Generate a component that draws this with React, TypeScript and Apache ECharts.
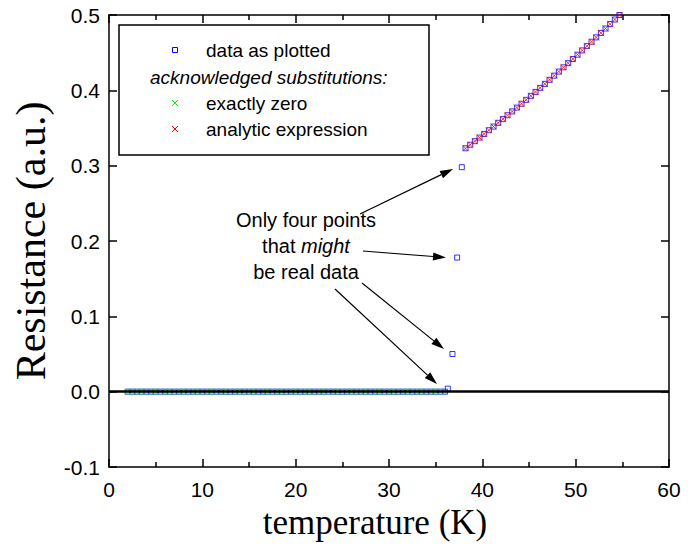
import React, { useEffect, useRef } from "react";
import * as echarts from "echarts";

// ---- data ----
const zeroTemps = [
  2, 2.5, 3, 3.5, 4, 4.5, 5, 5.5, 6, 6.5, 7, 7.5, 8, 8.5, 9, 9.5, 10, 10.5, 11, 11.5,
  12, 12.5, 13, 13.5, 14, 14.5, 15, 15.5, 16, 16.5, 17, 17.5, 18, 18.5, 19, 19.5, 20,
  20.5, 21, 21.5, 22, 22.5, 23, 23.5, 24, 24.5, 25, 25.5, 26, 26.5, 27, 27.5, 28, 28.5,
  29, 29.5, 30, 30.5, 31, 31.5, 32, 32.5, 33, 33.5, 34, 34.5, 35, 35.5, 36,
];
const zeroValue = 0;

const realTemps = [36.3, 36.8, 37.3, 37.8];
const realValues = [0.004, 0.05, 0.178, 0.298];

const curveTemps = [
  38.2, 38.7, 39.2, 39.7, 40.2, 40.7, 41.2, 41.7, 42.2, 42.7, 43.2, 43.7, 44.2, 44.7,
  45.2, 45.7, 46.2, 46.7, 47.2, 47.7, 48.2, 48.7, 49.2, 49.7, 50.2, 50.7, 51.2, 51.7,
  52.2, 52.7, 53.2, 53.7, 54.2, 54.7,
];
const curveValues = [
  0.3231, 0.3278, 0.3325, 0.3373, 0.3421, 0.347, 0.3519, 0.3569, 0.3618, 0.3669,
  0.372, 0.3771, 0.3822, 0.3874, 0.3927, 0.3979, 0.4033, 0.4086, 0.414, 0.4195,
  0.4249, 0.4305, 0.436, 0.4416, 0.4473, 0.453, 0.4587, 0.4645, 0.4703, 0.4762,
  0.4821, 0.488, 0.494, 0.5,
];

const xTicks = { min: 0, max: 60, interval: 10 };
const yTicks = { min: -0.1, max: 0.5, interval: 0.1 };

const legendItems = ["data as plotted", "exactly zero", "analytic expression"];
const legendSubtitle = "acknowledged substitutions:";
const xTitle = "temperature (K)";
const yTitle = "Resistance (a.u.)";

const SANS = "'Liberation Sans', Arial, sans-serif";
const SERIF = "'Liberation Serif', 'Times New Roman', serif";
const BLUE = "#0000ff";
const GREEN = "#00ff00";
const RED = "#ff0000";
const CROSS = "path://M0,0L10,10M10,0L0,10";

function arrow(x1: number, y1: number, x2: number, y2: number) {
  const dx = x2 - x1;
  const dy = y2 - y1;
  const len = Math.sqrt(dx * dx + dy * dy);
  const ux = dx / len;
  const uy = dy / len;
  const hl = 13;
  const hw = 4;
  const bx = x2 - ux * hl;
  const by = y2 - uy * hl;
  return [
    {
      type: "line",
      shape: { x1, y1, x2: bx, y2: by },
      style: { stroke: "#000", lineWidth: 1.2 },
      silent: true,
    },
    {
      type: "polygon",
      shape: {
        points: [
          [x2, y2],
          [bx - uy * hw, by + ux * hw],
          [bx + uy * hw, by - ux * hw],
        ],
      },
      style: { fill: "#000" },
      silent: true,
    },
  ];
}

function cross(cx: number, cy: number, color: string) {
  const h = 3;
  return [
    {
      type: "line",
      shape: { x1: cx - h, y1: cy - h, x2: cx + h, y2: cy + h },
      style: { stroke: color, lineWidth: 1 },
    },
    {
      type: "line",
      shape: { x1: cx - h, y1: cy + h, x2: cx + h, y2: cy - h },
      style: { stroke: color, lineWidth: 1 },
    },
  ];
}

export default function App() {
  const ref = useRef<HTMLDivElement>(null);

  useEffect(() => {
    if (!ref.current) return;
    const chart = echarts.init(ref.current, null, { renderer: "svg" });

    const zeroData = zeroTemps.map((t) => [t, zeroValue]);
    const realData = realTemps.map((t, i) => [t, realValues[i]]);
    const curveData = curveTemps.map((t, i) => [t, curveValues[i]]);
    const allData = [...zeroData, ...realData, ...curveData];

    const axisLine = { show: true, onZero: false, lineStyle: { color: "#000", width: 1.5 } };
    const xCommon = {
      type: "value",
      min: xTicks.min,
      max: xTicks.max,
      interval: xTicks.interval,
      axisLine,
      axisTick: { show: true, inside: true, length: 8, lineStyle: { color: "#000", width: 1.5 } },
      minorTick: { show: true, splitNumber: 2, length: 5, lineStyle: { color: "#000", width: 1.5 } },
      splitLine: { show: false },
      minorSplitLine: { show: false },
    };
    const yCommon = {
      type: "value",
      min: yTicks.min,
      max: yTicks.max,
      interval: yTicks.interval,
      axisLine,
      axisTick: { show: true, inside: true, length: 8, lineStyle: { color: "#000", width: 1.5 } },
      splitLine: { show: false },
    };

    const legendFont = `19px ${SANS}`;
    const noteFont = `20px ${SANS}`;

    const graphics: any[] = [
      {
        type: "rect",
        shape: { x: 119, y: 25, width: 310, height: 130 },
        style: { fill: "#fff", stroke: "#000", lineWidth: 1.5 },
        z: 10,
      },
      {
        type: "rect",
        shape: { x: 172.5, y: 47.5, width: 5, height: 5 },
        style: { fill: "none", stroke: BLUE, lineWidth: 1 },
        z: 11,
      },
      ...cross(175, 103, GREEN).map((g) => ({ ...g, z: 11 })),
      ...cross(175, 129, RED).map((g) => ({ ...g, z: 11 })),
      {
        type: "text",
        x: 206,
        y: 50,
        z: 11,
        style: { text: legendItems[0], font: legendFont, fill: "#000", verticalAlign: "middle" },
      },
      {
        type: "text",
        x: 150,
        y: 77,
        z: 11,
        style: {
          text: legendSubtitle,
          font: `italic ${legendFont}`,
          fill: "#000",
          verticalAlign: "middle",
        },
      },
      {
        type: "text",
        x: 206,
        y: 103,
        z: 11,
        style: { text: legendItems[1], font: legendFont, fill: "#000", verticalAlign: "middle" },
      },
      {
        type: "text",
        x: 206,
        y: 129,
        z: 11,
        style: { text: legendItems[2], font: legendFont, fill: "#000", verticalAlign: "middle" },
      },
      {
        type: "text",
        x: 306,
        y: 220,
        style: {
          text: "Only four points",
          font: noteFont,
          fill: "#000",
          align: "center",
          verticalAlign: "middle",
        },
      },
      {
        type: "text",
        x: 306,
        y: 246,
        style: {
          text: "{n|that }{i|might}",
          align: "center",
          verticalAlign: "middle",
          rich: {
            n: { font: noteFont, fill: "#000" },
            i: { font: `italic ${noteFont}`, fill: "#000" },
          },
        },
      },
      {
        type: "text",
        x: 306,
        y: 272,
        style: {
          text: "be real data",
          font: noteFont,
          fill: "#000",
          align: "center",
          verticalAlign: "middle",
        },
      },
      ...arrow(360, 214, 453, 169),
      ...arrow(363, 251, 446, 257.5),
      ...arrow(362, 283, 444, 349),
      ...arrow(335, 289, 437, 384),
      {
        type: "text",
        x: 375,
        y: 522,
        style: {
          text: xTitle,
          font: `35px ${SERIF}`,
          fill: "#000",
          align: "center",
          verticalAlign: "middle",
        },
      },
      {
        type: "text",
        x: 31,
        y: 241,
        rotation: Math.PI / 2,
        style: {
          text: yTitle,
          font: `42px ${SERIF}`,
          fill: "#000",
          align: "center",
          verticalAlign: "middle",
        },
      },
    ];

    chart.setOption({
      animation: false,
      backgroundColor: "#fff",
      grid: { left: 109, right: 19, top: 15, bottom: 81, containLabel: false },
      xAxis: [
        {
          ...xCommon,
          position: "bottom",
          axisLabel: { color: "#000", fontSize: 21, fontFamily: SANS, margin: 12 },
        },
        { ...xCommon, position: "top", axisLabel: { show: false } },
      ],
      yAxis: [
        {
          ...yCommon,
          position: "left",
          axisLabel: {
            color: "#000",
            fontSize: 21,
            fontFamily: SANS,
            margin: 9,
            formatter: (v: number) => v.toFixed(1),
          },
        },
        { ...yCommon, position: "right", axisLabel: { show: false } },
      ],
      series: [
        {
          type: "line",
          data: [],
          silent: true,
          markLine: {
            silent: true,
            symbol: ["none", "none"],
            label: { show: false },
            lineStyle: { color: "#000", width: 2.5, type: "solid" },
            data: [{ yAxis: 0 }],
          },
          z: 1,
        },
        {
          name: legendItems[0],
          type: "scatter",
          data: allData,
          symbol: "rect",
          symbolSize: 5,
          clip: false,
          itemStyle: { color: "transparent", borderColor: BLUE, borderWidth: 1 },
          z: 2,
        },
        {
          name: legendItems[1],
          type: "scatter",
          data: zeroData,
          symbol: CROSS,
          symbolSize: 6,
          clip: false,
          itemStyle: { color: "transparent", borderColor: GREEN, borderWidth: 1 },
          z: 3,
        },
        {
          name: legendItems[2],
          type: "scatter",
          data: curveData,
          symbol: CROSS,
          symbolSize: 6,
          clip: false,
          itemStyle: { color: "transparent", borderColor: RED, borderWidth: 1 },
          z: 3,
        },
      ],
      graphic: graphics,
    });

    return () => chart.dispose();
  }, []);

  return <div ref={ref} style={{ width: 688, height: 548, position: "absolute", left: 0, top: 0 }} />;
}
